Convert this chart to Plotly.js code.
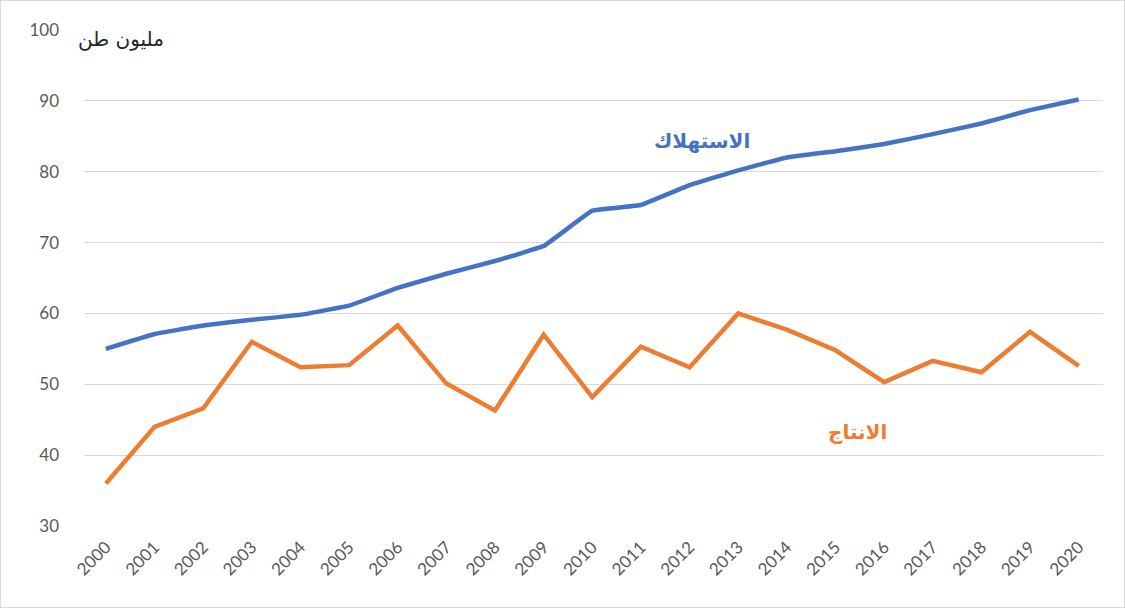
<!DOCTYPE html>
<html>
<head>
<meta charset="utf-8">
<script src="https://cdn.plot.ly/plotly-3.0.1.min.js"></script>
<style>
  html, body { margin: 0; padding: 0; background: #fff; }
  #wrap { position: relative; width: 1125px; height: 608px; }
  #chart { width: 1125px; height: 608px; }
  #frame { position: absolute; left: 0; top: 0; width: 1125px; height: 608px; box-sizing: border-box; border: 1px solid #d9d9d9; pointer-events: none; }
</style>
</head>
<body>
<div id="wrap"><div id="chart"></div><div id="frame"></div></div>
<script>
const years = [2000,2001,2002,2003,2004,2005,2006,2007,2008,2009,2010,2011,2012,2013,2014,2015,2016,2017,2018,2019,2020];
const consumption = [55.0,57.1,58.3,59.1,59.8,61.1,63.6,65.6,67.4,69.5,74.5,75.3,78.1,80.2,82.0,82.9,83.9,85.3,86.8,88.7,90.2];
const production = [36.0,44.0,46.6,56.0,52.4,52.7,58.3,50.1,46.3,57.0,48.2,55.3,52.4,60.0,57.7,54.8,50.3,53.3,51.7,57.4,52.6];
const yTicks = [30,40,50,60,70,80,90,100];
const unitLabel = "مليون طن";
const consumptionLabel = "الاستهلاك";
const productionLabel = "الانتاج";

const traces = [
  { x: years, y: consumption, type: 'scatter', mode: 'lines', name: consumptionLabel,
    line: { color: '#4472C4', width: 4.5, shape: 'spline', smoothing: 0.2 }, hoverinfo: 'x+y' },
  { x: years, y: production, type: 'scatter', mode: 'lines', name: productionLabel,
    line: { color: '#ED7D31', width: 4.5 }, hoverinfo: 'x+y' }
];

const layout = {
  width: 1125, height: 608,
  margin: { l: 84, r: 22, t: 30, b: 82 },
  paper_bgcolor: '#ffffff', plot_bgcolor: '#ffffff',
  showlegend: false,
  font: { family: 'Lato, "Open Sans", sans-serif', color: '#595959' },
  xaxis: {
    range: [1999.55, 2020.5],
    tickvals: years, ticktext: years.map(String),
    tickangle: -45, tickfont: { size: 17, color: '#595959' },
    ticklabelstandoff: 7,
    showgrid: false, zeroline: false, showline: false, ticks: '', fixedrange: true
  },
  yaxis: {
    range: [30, 100], tickvals: yTicks,
    tickfont: { size: 17, color: '#595959' },
    ticklabelstandoff: 24,
    showgrid: true, gridcolor: '#d9d9d9', gridwidth: 1,
    zeroline: false, showline: false, ticks: '', ticklen: 0,
    automargin: false, fixedrange: true
  },
  annotations: [
    { text: unitLabel, xref: 'paper', yref: 'paper', x: 0.08, y: 0.982, xanchor: 'right', yanchor: 'middle',
      showarrow: false, font: { family: '"DejaVu Sans", sans-serif', size: 20, color: '#262626' } },
    { text: '<b>' + consumptionLabel + '</b>', xref: 'x', yref: 'y', x: 2012.25, y: 84.3,
      showarrow: false, font: { family: '"DejaVu Sans", sans-serif', size: 20, color: '#4472C4' } },
    { text: '<b>' + productionLabel + '</b>', xref: 'x', yref: 'y', x: 2015.45, y: 43.3,
      showarrow: false, font: { family: '"DejaVu Sans", sans-serif', size: 20, color: '#ED7D31' } }
  ]
};

Plotly.newPlot('chart', traces, layout, { displayModeBar: false, staticPlot: true });
</script>
</body>
</html>
